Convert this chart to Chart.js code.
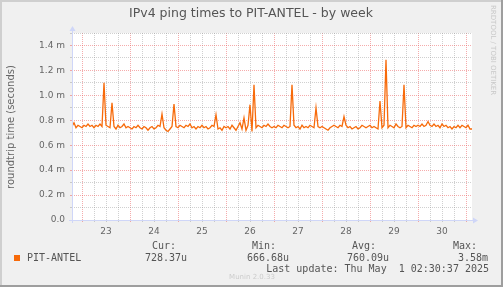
<!DOCTYPE html>
<html>
<head>
<meta charset="utf-8">
<script src="https://cdn.jsdelivr.net/npm/chart.js@4/dist/chart.umd.min.js"></script>
<style>
  html, body { margin: 0; padding: 0; background: #F0F0F0; }
  canvas { display: block; }
</style>
</head>
<body>
<canvas id="pingChart" width="503" height="287"></canvas>
<script>
// Donnees (valeurs en millisecondes, une par heure)
const startHour = -5; // heures relatives au 23 avril 00:00
const pingMs = [
  0.75, 0.78, 0.74, 0.76, 0.75,
  // 23
  0.74, 0.76, 0.75, 0.77, 0.75, 0.76, 0.74, 0.76, 0.75, 0.77, 0.75, 1.10,
  0.76, 0.75, 0.74, 0.94, 0.75, 0.73, 0.76, 0.74, 0.75, 0.77, 0.74, 0.75,
  // 24
  0.74, 0.73, 0.75, 0.74, 0.76, 0.74, 0.73, 0.75, 0.74, 0.72, 0.74, 0.75,
  0.73, 0.74, 0.76, 0.75, 0.85, 0.74, 0.72, 0.71, 0.73, 0.75, 0.93, 0.75,
  // 25
  0.74, 0.76, 0.75, 0.74, 0.76, 0.75, 0.77, 0.74, 0.75, 0.73, 0.75, 0.74,
  0.76, 0.74, 0.75, 0.73, 0.74, 0.76, 0.75, 0.845, 0.73, 0.74, 0.72, 0.75,
  // 26
  0.74, 0.75, 0.73, 0.76, 0.74, 0.72, 0.75, 0.78, 0.73, 0.82, 0.72, 0.76,
  0.925, 0.71, 1.085, 0.74, 0.76, 0.75, 0.74, 0.76, 0.75, 0.77, 0.75, 0.74,
  // 27
  0.75, 0.74, 0.76, 0.75, 0.74, 0.76, 0.75, 0.74, 0.75, 1.085, 0.76, 0.74,
  0.75, 0.73, 0.76, 0.74, 0.75, 0.74, 0.76, 0.75, 0.74, 0.90, 0.75, 0.74,
  // 28
  0.75, 0.74, 0.73, 0.72, 0.74, 0.75, 0.76, 0.75, 0.74, 0.76, 0.75, 0.83,
  0.76, 0.74, 0.75, 0.73, 0.74, 0.75, 0.73, 0.74, 0.76, 0.75, 0.74, 0.75,
  // 29
  0.76, 0.74, 0.75, 0.74, 0.73, 0.955, 0.74, 0.76, 1.285, 0.74, 0.76, 0.75,
  0.74, 0.77, 0.75, 0.74, 0.75, 1.085, 0.74, 0.76, 0.75, 0.74, 0.76, 0.75,
  // 30
  0.76, 0.75, 0.77, 0.75, 0.76, 0.79, 0.76, 0.75, 0.77, 0.75, 0.76, 0.74,
  0.77, 0.75, 0.76, 0.74, 0.75, 0.73, 0.75, 0.74, 0.76, 0.74, 0.76, 0.75,
  // 1 mai
  0.74, 0.76, 0.73, 0.73
];
const dayLabels = ['23', '24', '25', '26', '27', '28', '29', '30'];
const yTickLabels = ['0.0', '0.2 m', '0.4 m', '0.6 m', '0.8 m', '1.0 m', '1.2 m', '1.4 m'];
const legendHeads = ['Cur:', 'Min:', 'Avg:', 'Max:'];
const legendValues = ['728.37u', '666.68u', '760.09u', '3.58m'];
const seriesName = 'PIT-ANTEL';

const LINE_COLOR = '#F76A0A';
const GRID_MINOR = 'rgba(150, 150, 150, 0.45)';
const GRID_MAJOR = 'rgba(235, 90, 90, 0.5)';
const AXIS_COLOR = '#CFD6F8';
const FONT_COLOR = '#666666';

// Fond, cadre et zone du graphique
const backgroundPlugin = {
    id: 'muninBackground',
    beforeDraw(chart) {
        const ctx = chart.ctx;
        const a = chart.chartArea;
        ctx.save();
        ctx.fillStyle = '#F0F0F0';
        ctx.fillRect(0, 0, chart.width, chart.height);
        ctx.fillStyle = '#FFFFFF';
        ctx.fillRect(a.left, a.top, a.right - a.left, a.bottom - a.top);
        // bordure en relief
        ctx.fillStyle = '#CFCFCF';
        ctx.fillRect(0, 0, chart.width, 2);
        ctx.fillRect(0, 0, 2, chart.height);
        ctx.fillStyle = '#9E9E9E';
        ctx.fillRect(chart.width - 2, 0, 2, chart.height);
        ctx.fillRect(0, chart.height - 2, chart.width, 2);
        ctx.restore();
    }
};

// Axes avec fleches + textes (titre, legende, filigranes)
const decorPlugin = {
    id: 'muninDecor',
    afterDraw(chart) {
        const ctx = chart.ctx;
        const a = chart.chartArea;
        ctx.save();

        // axes
        ctx.strokeStyle = AXIS_COLOR;
        ctx.fillStyle = AXIS_COLOR;
        ctx.lineWidth = 1;
        ctx.beginPath();
        ctx.moveTo(a.left - 3, a.bottom + 0.5);
        ctx.lineTo(a.right + 2, a.bottom + 0.5);
        ctx.moveTo(a.left + 0.5, a.bottom + 3);
        ctx.lineTo(a.left + 0.5, a.top - 3);
        ctx.stroke();
        ctx.beginPath();
        ctx.moveTo(a.right + 6, a.bottom + 0.5);
        ctx.lineTo(a.right + 1, a.bottom - 2.5);
        ctx.lineTo(a.right + 1, a.bottom + 3.5);
        ctx.closePath();
        ctx.fill();
        ctx.beginPath();
        ctx.moveTo(a.left + 0.5, a.top - 7);
        ctx.lineTo(a.left - 2.5, a.top - 2);
        ctx.lineTo(a.left + 3.5, a.top - 2);
        ctx.closePath();
        ctx.fill();

        // titre
        ctx.fillStyle = '#555555';
        ctx.font = '12.5px "DejaVu Sans"';
        ctx.textAlign = 'center';
        ctx.textBaseline = 'middle';
        ctx.fillText('IPv4 ping times to PIT-ANTEL - by week', 251, 14);

        // titre de l'axe Y
        ctx.save();
        ctx.translate(11, 127);
        ctx.rotate(-Math.PI / 2);
        ctx.font = '10px "DejaVu Sans"';
        ctx.fillStyle = FONT_COLOR;
        ctx.fillText('roundtrip time (seconds)', 0, 0);
        ctx.restore();

        // RRDTOOL
        ctx.save();
        ctx.translate(493, 5);
        ctx.rotate(Math.PI / 2);
        ctx.font = '7px "DejaVu Sans"';
        ctx.fillStyle = '#C8C8C8';
        ctx.textAlign = 'left';
        ctx.fillText('RRDTOOL / TOBI OETIKER', 0, 0);
        ctx.restore();

        // legende
        ctx.font = '10px "DejaVu Sans Mono"';
        ctx.fillStyle = '#555555';
        ctx.textAlign = 'left';
        const headX = [152, 252, 352, 453];
        const valX = [145, 247, 347, 458];
        legendHeads.forEach((h, i) => ctx.fillText(h, headX[i], 246));
        legendValues.forEach((v, i) => ctx.fillText(v, valX[i], 258));
        ctx.fillText(seriesName, 27, 258);
        ctx.fillStyle = LINE_COLOR;
        ctx.fillRect(14, 255, 6, 6);
        ctx.fillStyle = '#555555';
        ctx.textAlign = 'right';
        ctx.fillText('Last update: Thu May  1 02:30:37 2025', 489, 269);

        // filigrane Munin
        ctx.font = '7px "DejaVu Sans"';
        ctx.fillStyle = '#CCCCCC';
        ctx.textAlign = 'center';
        ctx.fillText('Munin 2.0.33', 252, 277);

        ctx.restore();
    }
};

function isMajorY(v) {
    return Math.round(v * 10) % 2 === 0;
}

document.addEventListener('DOMContentLoaded', function() {
    Chart.defaults.font.family = '"DejaVu Sans"';
    const ctx = document.getElementById('pingChart').getContext('2d');

    new Chart(ctx, {
        type: 'line',
        data: {
            datasets: [{
                label: seriesName,
                data: pingMs.map((v, i) => ({ x: startHour + i, y: v })),
                borderColor: LINE_COLOR,
                borderWidth: 1.3,
                pointRadius: 0,
                tension: 0,
                fill: false
            }]
        },
        options: {
            responsive: false,
            animation: false,
            devicePixelRatio: 1,
            layout: { padding: { top: 33, right: 31, bottom: 0, left: 0 } },
            plugins: {
                legend: { display: false },
                title: { display: false },
                tooltip: { enabled: false }
            },
            scales: {
                x: {
                    type: 'linear',
                    min: -5,
                    max: 195,
                    afterBuildTicks: s => {
                        s.ticks = [...Array(33).keys()].map(i => ({ value: i * 6 }));
                    },
                    afterFit: s => { s.height = 67; },
                    ticks: {
                        autoSkip: false,
                        maxRotation: 0,
                        padding: 4,
                        color: FONT_COLOR,
                        font: { size: 9 },
                        callback: v => (v % 24 === 12 ? dayLabels[(v - 12) / 24] : '')
                    },
                    grid: {
                        color: c => (c.tick && c.tick.value % 24 === 0 ? GRID_MAJOR : GRID_MINOR),
                        tickLength: 2,
                        lineWidth: 1
                    },
                    border: { display: false, dash: [1, 1] }
                },
                y: {
                    min: 0,
                    max: 1.5,
                    afterBuildTicks: s => {
                        s.ticks = [...Array(16).keys()].map(i => ({ value: i / 10 }));
                    },
                    afterFit: s => { s.width = 72; },
                    ticks: {
                        autoSkip: false,
                        padding: 5,
                        color: FONT_COLOR,
                        font: { size: 9 },
                        callback: v => (isMajorY(v) ? yTickLabels[Math.round(v * 5)] : '')
                    },
                    grid: {
                        color: c => (c.tick && isMajorY(c.tick.value) ? GRID_MAJOR : GRID_MINOR),
                        tickLength: 2,
                        lineWidth: 1
                    },
                    border: { display: false, dash: [1, 1] }
                }
            }
        },
        plugins: [backgroundPlugin, decorPlugin]
    });
});
</script>
</body>
</html>
